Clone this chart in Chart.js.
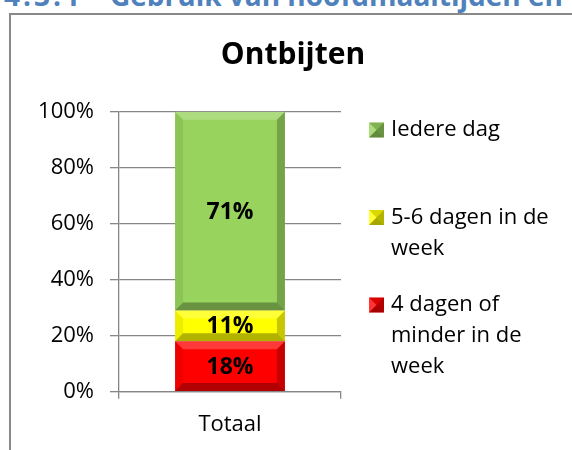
<!DOCTYPE html>
<html>
<head>
<meta charset="utf-8">
<title>Ontbijten</title>
<script src="https://cdn.jsdelivr.net/npm/chart.js@4.4.0/dist/chart.umd.min.js"></script>
<style>
  html, body { margin: 0; padding: 0; width: 572px; height: 450px; overflow: hidden; background: #fff; }
  #heading { position: absolute; left: 4px; top: -18px; font: bold 28px/27px 'Open Sans', sans-serif; color: #4f81bd; white-space: nowrap; }
  #heading .num { display: inline-block; width: 106px; letter-spacing: 3px; }
  #frame { position: absolute; left: 9px; top: 13px; width: 620px; height: 520px; border-left: 2px solid #898989; border-top: 2px solid #898989; }
  #chart { position: absolute; left: 10px; top: 13px; }
</style>
</head>
<body>
<div id="heading"><span class="num">4.3.1</span>Gebruik van hoofdmaaltijden en</div>
<div id="frame"></div>
<canvas id="chart" width="566" height="437"></canvas>
<script>
// Ontbijten - stacked 100% bar, one category
var chartTitle = 'Ontbijten';
var categories = ['Totaal'];
var seriesNames = ['4 dagen of minder in de week', '5-6 dagen in de week', 'Iedere dag'];
var redValues = [18];
var yellowValues = [11];
var greenValues = [71];
var seriesColors = ['#ff0000', '#ffff00', '#97d35d'];
var yTickValues = [0, 20, 40, 60, 80, 100];

var FONT = "'Open Sans', sans-serif";
var GRID = '#868686';

function fillPoly(ctx, pts, color) {
  ctx.beginPath();
  ctx.moveTo(pts[0][0], pts[0][1]);
  for (var i = 1; i < pts.length; i++) ctx.lineTo(pts[i][0], pts[i][1]);
  ctx.closePath();
  ctx.fillStyle = color;
  ctx.fill();
}

// Excel-like bevel on the bars, then the value labels on top
var bevelPlugin = {
  id: 'bevel',
  afterDatasetsDraw: function (chart) {
    var ctx = chart.ctx;
    ctx.save();
    chart.data.datasets.forEach(function (ds, di) {
      var meta = chart.getDatasetMeta(di);
      meta.data.forEach(function (bar, i) {
        var p = bar.getProps(['x', 'y', 'base', 'width'], true);
        var l = p.x - p.width / 2, r = p.x + p.width / 2;
        var t = Math.min(p.y, p.base), b = Math.max(p.y, p.base);
        var d = Math.min(8, (b - t) / 3);
        fillPoly(ctx, [[l, t], [r, t], [r - d, t + d], [l + d, t + d]], 'rgba(255,255,255,0.22)');
        fillPoly(ctx, [[l, t], [l + d, t + d], [l + d, b - d], [l, b]], 'rgba(0,0,0,0.07)');
        fillPoly(ctx, [[r, t], [r, b], [r - d, b - d], [r - d, t + d]], 'rgba(0,0,0,0.22)');
        fillPoly(ctx, [[l, b], [r, b], [r - d, b - d], [l + d, b - d]], 'rgba(0,0,0,0.3)');

        ctx.fillStyle = '#000';
        ctx.font = 'bold 23px ' + FONT;
        ctx.textAlign = 'center';
        ctx.textBaseline = 'middle';
        ctx.fillText(ds.data[i] + '%', p.x, (t + b) / 2 + 1);
      });
    });
    ctx.restore();
  }
};

function wrapText(ctx, text, maxWidth) {
  var words = text.split(' ');
  var lines = [];
  var line = '';
  words.forEach(function (w) {
    var test = line ? line + ' ' + w : w;
    if (line && ctx.measureText(test).width > maxWidth) {
      lines.push(line);
      line = w;
    } else {
      line = test;
    }
  });
  if (line) lines.push(line);
  return lines;
}

// title over the whole chart box, legend on the right with wrapped labels
var sideLegend = {
  id: 'sideLegend',
  afterDraw: function (chart) {
    var ctx = chart.ctx;
    ctx.save();
    ctx.fillStyle = '#000';
    ctx.font = 'bold 30px ' + FONT;
    ctx.textAlign = 'center';
    ctx.textBaseline = 'middle';
    ctx.fillText(chartTitle, chart.width / 2, 42);

    var markerX = 359, size = 15, textX = 381;
    var centerY = 220, spacing = 103, lineH = 31;
    var order = [2, 1, 0];
    ctx.font = '22px ' + FONT;
    ctx.textAlign = 'left';
    order.forEach(function (di, k) {
      var ds = chart.data.datasets[di];
      var lines = wrapText(ctx, ds.label, 175);
      var cy = centerY + (k - 1) * spacing;
      var firstY = cy - (lines.length - 1) * lineH / 2;
      var mx = markerX, my = firstY - size / 2;
      ctx.fillStyle = ds.backgroundColor;
      ctx.fillRect(mx, my, size, size);
      var c = [mx + size / 2, my + size / 2];
      fillPoly(ctx, [[mx, my], [mx + size, my], c], 'rgba(0,0,0,0.15)');
      fillPoly(ctx, [[mx + size, my], [mx + size, my + size], c], 'rgba(0,0,0,0.3)');
      fillPoly(ctx, [[mx, my + size], [mx + size, my + size], c], 'rgba(0,0,0,0.35)');
      fillPoly(ctx, [[mx, my], [mx, my + size], c], 'rgba(255,255,255,0.2)');
      ctx.fillStyle = '#000';
      lines.forEach(function (ln, li) {
        ctx.fillText(ln, textX, firstY + li * lineH);
      });
    });
    ctx.restore();
  }
};

var datasets = [
  { label: seriesNames[0], data: redValues, backgroundColor: seriesColors[0] },
  { label: seriesNames[1], data: yellowValues, backgroundColor: seriesColors[1] },
  { label: seriesNames[2], data: greenValues, backgroundColor: seriesColors[2] }
].map(function (ds) {
  ds.borderWidth = 0;
  ds.categoryPercentage = 1;
  ds.barPercentage = 0.495;
  ds.stack = 'one';
  return ds;
});

new Chart(document.getElementById('chart').getContext('2d'), {
  type: 'bar',
  data: { labels: categories, datasets: datasets },
  options: {
    responsive: false,
    animation: false,
    layout: { padding: { left: 0, right: 235, top: 98.7, bottom: 0 } },
    plugins: {
      legend: { display: false },
      tooltip: { enabled: false },
      title: { display: false }
    },
    scales: {
      x: {
        stacked: true,
        grid: { offset: true, drawOnChartArea: false, tickLength: 7, color: GRID, lineWidth: 1.3 },
        border: { color: GRID, width: 1.3 },
        ticks: { color: '#000', font: { family: FONT, size: 22 }, padding: 13 },
        afterFit: function (s) { s.height = 58.3; }
      },
      y: {
        stacked: true,
        min: yTickValues[0],
        max: yTickValues[yTickValues.length - 1],
        afterBuildTicks: function (s) {
          s.ticks = yTickValues.map(function (v) { return { value: v }; });
        },
        ticks: {
          color: '#000',
          font: { family: FONT, size: 22 },
          padding: 16,
          callback: function (v) { return v + '%'; }
        },
        grid: { color: GRID, lineWidth: 1.3, tickLength: 9 },
        border: { color: GRID, width: 1.3 },
        afterFit: function (s) { s.width = 109; }
      }
    }
  },
  plugins: [bevelPlugin, sideLegend]
});
</script>
</body>
</html>
